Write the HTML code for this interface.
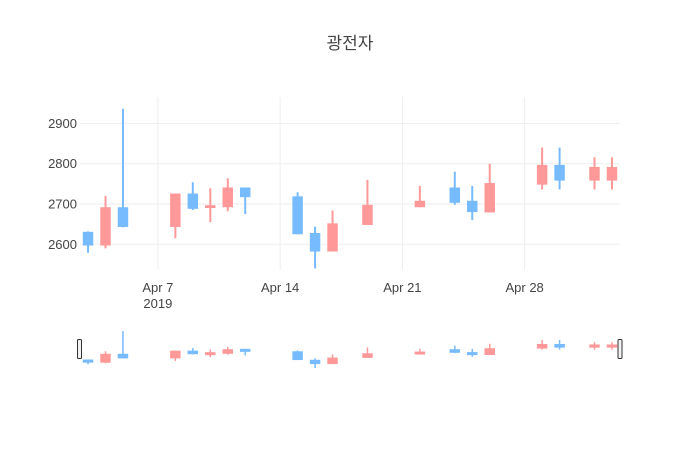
<!DOCTYPE html>
<html><head><meta charset="utf-8"><style>
body{margin:0;background:#fff}
svg{display:block;font-family:"Liberation Sans","Noto Sans CJK KR",sans-serif}
</style></head><body>
<svg id="chart" width="700" height="450" viewBox="0 0 700 450">
<rect width="700" height="450" fill="#fff"/>
<text x="350" y="49" text-anchor="middle" font-size="17" fill="#444">광전자</text>
<g id="grid"></g>
<g id="candles"></g>
<g id="yaxis"></g>
<g id="xaxis"></g>
<g id="slider"></g>
</svg>
<script>
const dates=["2019-04-03","2019-04-04","2019-04-05","2019-04-08","2019-04-09","2019-04-10","2019-04-11","2019-04-12","2019-04-15","2019-04-16","2019-04-17","2019-04-19","2019-04-22","2019-04-24","2019-04-25","2019-04-26","2019-04-29","2019-04-30","2019-05-02","2019-05-03"];
const opens=[2631,2597,2692,2643,2726,2690,2692,2741,2719,2628,2582,2648,2692,2741,2708,2679,2748,2797,2758,2758];
const highs=[2632,2720,2936,2726,2754,2739,2764,2741,2729,2644,2684,2760,2745,2780,2745,2800,2840,2840,2816,2816];
const lows=[2579,2590,2642,2615,2685,2655,2682,2675,2625,2540,2582,2648,2692,2698,2660,2679,2736,2736,2736,2736];
const closes=[2597,2692,2643,2726,2688,2697,2741,2717,2625,2582,2652,2698,2708,2703,2680,2752,2797,2758,2792,2792];
const yTicks=[2600,2700,2800,2900];
const xTicks=["2019-04-07","2019-04-14","2019-04-21","2019-04-28"];
const xTickLabels=["Apr 7","Apr 14","Apr 21","Apr 28"];

const NS="http://www.w3.org/2000/svg";
const DAY=86400000;
const t0=Date.parse("2019-04-03")-0.46*DAY, t1=Date.parse("2019-05-03")+0.46*DAY;
const L=80,R=620;
const x=d=>L+(Date.parse(d)-t0)/(t1-t0)*(R-L);
const y=v=>244.3-(v-2600)*0.403;
const ymin=Math.min(...lows), ymax=Math.max(...highs);
const sy=v=>331+(ymax-v)/(ymax-ymin)*37;
const UP="#ff9999", DN="#77bbff";
function mk(tag,attrs,parent){const e=document.createElementNS(NS,tag);for(const k in attrs)e.setAttribute(k,attrs[k]);parent.appendChild(e);return e;}
const grid=document.getElementById('grid'),cg=document.getElementById('candles'),ya=document.getElementById('yaxis'),xa=document.getElementById('xaxis'),sl=document.getElementById('slider');
yTicks.forEach(v=>{
  const l=mk('line',{x1:L,x2:R,y1:y(v),y2:y(v),stroke:'#eee','stroke-width':1},grid);
  
  
  const t=mk('text',{x:L-3,y:y(v)+4.5,'text-anchor':'end','font-size':13,fill:'#444'},ya);
  t.textContent=v;
  
  
});
xTicks.forEach((d,i)=>{
  const l=mk('line',{x1:x(d),x2:x(d),y1:97,y2:270,stroke:'#eee','stroke-width':1},grid);
  
  
  const t=mk('text',{x:x(d),y:292,'text-anchor':'middle','font-size':13,fill:'#444'},xa);
  t.textContent=xTickLabels[i];
  
  
});
const yr=mk('text',{x:x(xTicks[0]),y:308,'text-anchor':'middle','font-size':13,fill:'#444'},xa);
yr.textContent="2019";


const bw=0.6*DAY/(t1-t0)*(R-L);
function candle(i,parent,fy,wickW,name,minH){
  const cx=x(dates[i]),c=closes[i]>=opens[i]?UP:DN;
  const g=mk('g',{},parent);
  
  
  mk('line',{x1:cx,x2:cx,y1:fy(highs[i]),y2:fy(lows[i]),stroke:c,'stroke-width':wickW},g);
  let top=fy(Math.max(opens[i],closes[i])),bot=fy(Math.min(opens[i],closes[i]));
  if(bot-top<minH){const m=(top+bot)/2;top=m-minH/2;bot=m+minH/2;}
  mk('rect',{x:cx-bw/2,y:top,width:bw,height:bot-top,fill:c},g);
}
dates.forEach((d,i)=>candle(i,cg,y,2,'candle',2));
dates.forEach((d,i)=>candle(i,sl,sy,1.5,'slider-candle',3));
[[79.5,'slider-handle-left'],[620,'slider-handle-right']].forEach(([hx,n])=>{
  const h=mk('rect',{x:hx-2,y:339.5,width:4,height:19,rx:1,fill:'#f2f2f2',stroke:'#333','stroke-width':1},sl);
  
  
});
</script>
</body></html>
